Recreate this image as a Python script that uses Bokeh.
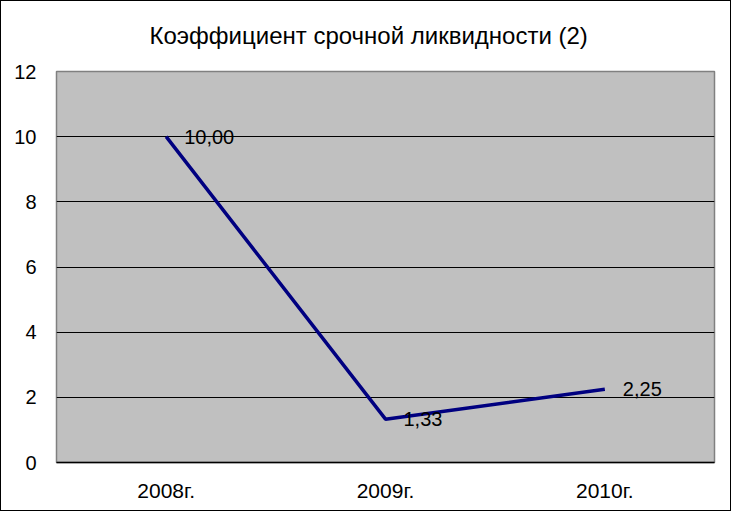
from bokeh.plotting import figure
from bokeh.models import FactorRange, FixedTicker, Range1d, ColumnDataSource, LabelSet
from bokeh.core.properties import value
from bokeh.embed import file_html
from bokeh.resources import INLINE

title = "Коэффициент срочной ликвидности (2)"
years = ["2008г.", "2009г.", "2010г."]
values = [10.00, 1.33, 2.25]
labels = ["10,00", "1,33", "2,25"]
y_ticks = [0, 2, 4, 6, 8, 10, 12]

FONT = "Liberation Sans"

p = figure(width=731, height=511, x_range=FactorRange(*years), y_range=Range1d(0, 12),
           output_backend="svg", toolbar_location=None,
           min_border_left=55, min_border_right=18, min_border_top=69, min_border_bottom=50,
           background_fill_color="#C0C0C0", border_fill_color="white",
           outline_line_color="#808080", outline_line_width=1.5)
p.styles = {"border": "1px solid black"}

p.title.text = title
p.title.align = "left"
p.title.offset = 93
p.title.vertical_align = "top"
p.title.standoff = 41
p.title.text_font = FONT
p.title.text_font_size = "24px"
p.title.text_font_style = "normal"
p.title.text_color = "black"

src = ColumnDataSource(dict(x=years, y=values, t=labels))
p.line("x", "y", source=src, line_color="#000080", line_width=3.5)
p.add_layout(LabelSet(x="x", y="y", text="t", source=src, x_offset=18, y_offset=0,
                      text_baseline="middle", text_align="left",
                      text_font=value(FONT), text_font_size="20px", text_color="black"))

p.yaxis.ticker = FixedTicker(ticks=y_ticks)
p.ygrid.ticker = FixedTicker(ticks=[t for t in y_ticks if 0 < t < 12])
p.ygrid.grid_line_color = "black"
p.ygrid.grid_line_width = 1
p.xgrid.grid_line_color = None

for ax in (p.xaxis, p.yaxis):
    ax.major_tick_line_color = None
    ax.minor_tick_line_color = None
    ax.major_label_text_font = FONT
    ax.major_label_text_font_size = "20px"
    ax.major_label_text_color = "black"
p.xaxis.major_label_text_font_size = "21px"
p.yaxis.axis_line_color = None
p.yaxis.major_label_standoff = 14
p.xaxis.axis_line_color = "black"
p.xaxis.axis_line_width = 1.5
p.xaxis.major_label_standoff = 10

open("out.html", "w").write(file_html(p, INLINE))
